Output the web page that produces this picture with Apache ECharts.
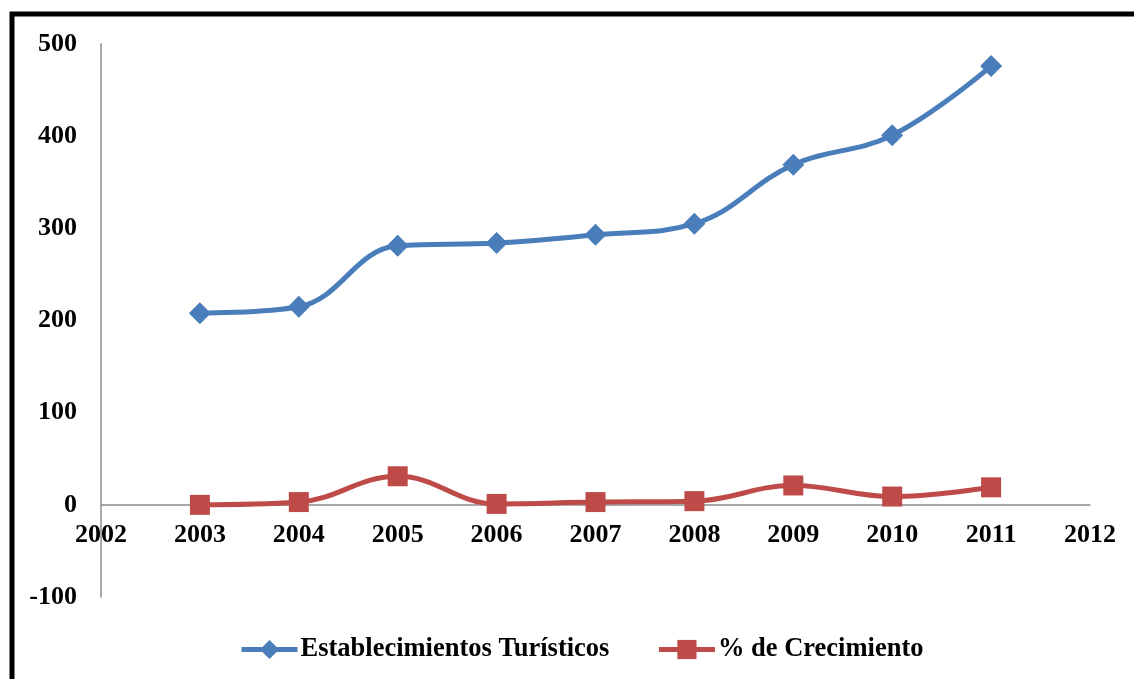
<!DOCTYPE html>
<html>
<head>
<meta charset="utf-8">
<script src="https://cdn.jsdelivr.net/npm/echarts@6/dist/echarts.min.js"></script>
<style>
html,body{margin:0;padding:0;background:#fff;}
#c{width:1134px;height:679px;}
</style>
</head>
<body>
<div id="c"></div>
<script>
const years = [2003, 2004, 2005, 2006, 2007, 2008, 2009, 2010, 2011];
const establecimientos = [208, 215, 281, 284, 293, 305, 369, 401, 476];
const crecimiento = [0, 3, 31, 1, 3, 4, 21, 9, 19];
const seriesNames = ['Establecimientos Turísticos', '% de Crecimiento'];

const chart = echarts.init(document.getElementById('c'));
const font = '"Liberation Serif", "Times New Roman", serif';
chart.setOption({
  animation: false,
  backgroundColor: '#fff',
  graphic: [{
    type: 'rect',
    shape: {x: 12, y: 14, width: 1300, height: 900},
    style: {fill: 'none', stroke: '#000', lineWidth: 5},
    z: 100
  }],
  grid: {left: 101, right: 44, top: 44, bottom: 82},
  legend: {
    left: 234,
    top: 631,
    itemWidth: 56,
    itemHeight: 24,
    itemGap: 47,
    lineStyle: {width: 5},
    textStyle: {fontFamily: font, fontWeight: 'bold', fontSize: 26.5, color: '#000', padding: [0, 0, 0, -2]},
    data: seriesNames
  },
  xAxis: {
    type: 'value',
    min: 2002, max: 2012, interval: 1,
    axisLine: {onZero: true, lineStyle: {color: '#8c8c8c', width: 1.5}},
    axisTick: {show: false},
    splitLine: {show: false},
    axisLabel: {margin: -75, fontFamily: font, fontWeight: 'bold', fontSize: 26, color: '#000',
      formatter: v => String(v)}
  },
  yAxis: {
    type: 'value',
    min: -100, max: 500, interval: 100,
    axisLine: {show: true, onZero: false, lineStyle: {color: '#8c8c8c', width: 1.5}},
    axisTick: {show: false},
    splitLine: {show: false},
    axisLabel: {margin: 24, fontFamily: font, fontWeight: 'bold', fontSize: 26, color: '#000'}
  },
  series: [{
    name: seriesNames[0],
    type: 'line',
    smooth: 0.4,
    data: years.map((y, i) => [y, establecimientos[i]]),
    symbol: 'diamond',
    symbolSize: 22,
    lineStyle: {color: '#4A7EBB', width: 5},
    itemStyle: {color: '#4A7EBB'}
  }, {
    name: seriesNames[1],
    type: 'line',
    smooth: 0.4,
    data: years.map((y, i) => [y, crecimiento[i]]),
    symbol: 'rect',
    symbolSize: 20,
    lineStyle: {color: '#BE4B48', width: 5},
    itemStyle: {color: '#BE4B48'}
  }]
});
</script>
</body>
</html>
